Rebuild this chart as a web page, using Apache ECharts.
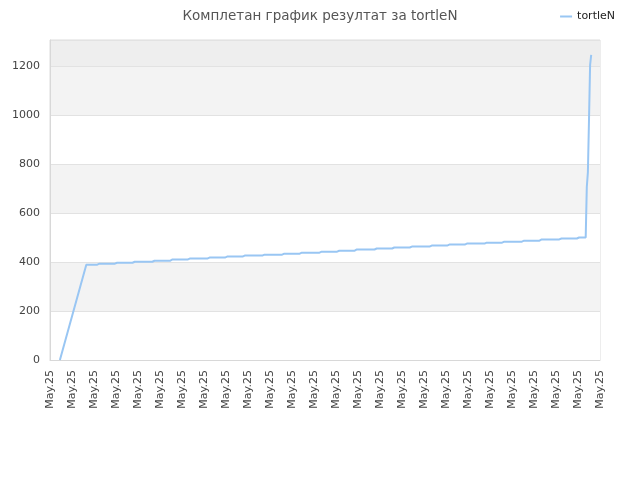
<!DOCTYPE html>
<html>
<head>
<meta charset="utf-8">
<script src="https://cdn.jsdelivr.net/npm/echarts@6/dist/echarts.min.js"></script>
<style>html,body{margin:0;padding:0;background:#fff}#c{width:640px;height:480px}</style>
</head>
<body>
<div id="c"></div>
<script>
// number of category slots on the x axis, every 20th labelled
const categoryCount = 501;
const categoryLabel = 'May.25';
const labelEvery = 20;

// single readings (category index -> value)
const pointIndex = [9, 488, 489, 490, 491, 492];
const pointValue = [0, 706, 767, 980, 1204, 1245];

// flat stretches: start index, end index, value
const stepStart = [33, 44, 60, 77, 94, 110, 127, 144, 160, 177, 195, 212, 228, 246, 262, 278, 296, 312, 329, 346, 363, 379, 396, 413, 430, 446, 464, 480];
const stepEnd   = [43, 59, 76, 93, 109, 126, 143, 159, 176, 194, 211, 227, 245, 261, 277, 295, 311, 328, 345, 362, 378, 395, 412, 429, 445, 463, 479, 487];
const stepValue = [389, 393, 397, 401, 405, 410, 414, 418, 422, 426, 430, 434, 438, 442, 446, 451, 455, 459, 463, 467, 471, 475, 479, 483, 487, 492, 496, 500];

const yTicks = [0, 200, 400, 600, 800, 1000, 1200];
const yMax = 1306;

const categories = [];
const values = [];
for (let i = 0; i < categoryCount; i++) { categories.push(categoryLabel); values.push(null); }
pointIndex.forEach((idx, k) => { values[idx] = pointValue[k]; });
stepStart.forEach((s, k) => { for (let i = s; i <= stepEnd[k]; i++) values[i] = stepValue[k]; });

const chart = echarts.init(document.getElementById('c'));
chart.setOption({
  animation: false,
  backgroundColor: '#fff',
  title: {
    text: 'Комплетан график резултат за tortleN',
    left: 'center', top: 4,
    textStyle: { fontFamily: 'DejaVu Sans', fontSize: 13.5, fontWeight: 'normal', color: '#555' }
  },
  legend: {
    right: 20, top: 6,
    icon: 'rect', itemWidth: 12, itemHeight: 2, itemGap: 5,
    textStyle: { fontFamily: 'DejaVu Sans', fontSize: 11, color: '#222' },
    data: ['tortleN']
  },
  grid: { left: 50, right: 40, top: 40, bottom: 120, show: true, borderColor: '#dcdcdc', borderWidth: 1, backgroundColor: 'transparent' },
  xAxis: {
    type: 'category',
    data: categories,
    boundaryGap: false,
    axisLine: { lineStyle: { color: '#d8d8d8' } },
    axisTick: { show: false },
    axisLabel: {
      interval: labelEvery - 1, rotate: 90, margin: 10,
      fontFamily: 'DejaVu Sans', fontSize: 11, color: '#444'
    },
    splitLine: { show: false }
  },
  yAxis: {
    type: 'value',
    min: yTicks[0], max: yMax, interval: 200,
    axisLine: { show: true, lineStyle: { color: '#d8d8d8' } },
    axisTick: { show: false },
    axisLabel: {
      showMaxLabel: false, margin: 10,
      fontFamily: 'DejaVu Sans', fontSize: 11, color: '#444',
      formatter: v => (yTicks.indexOf(v) >= 0 ? String(v) : '')
    },
    splitLine: { show: true, lineStyle: { color: '#e2e2e2' } },
    splitArea: { show: true, areaStyle: { color: ['#ffffff', '#f3f3f3', '#ffffff', '#f3f3f3', '#ffffff', '#f3f3f3', '#eeeeee'] } }
  },
  series: [{
    name: 'tortleN',
    type: 'line',
    data: values,
    connectNulls: true,
    showSymbol: false,
    symbol: 'none',
    lineStyle: { color: '#99c6f3', width: 2 },
    itemStyle: { color: '#99c6f3' }
  }]
});
</script>
</body>
</html>
